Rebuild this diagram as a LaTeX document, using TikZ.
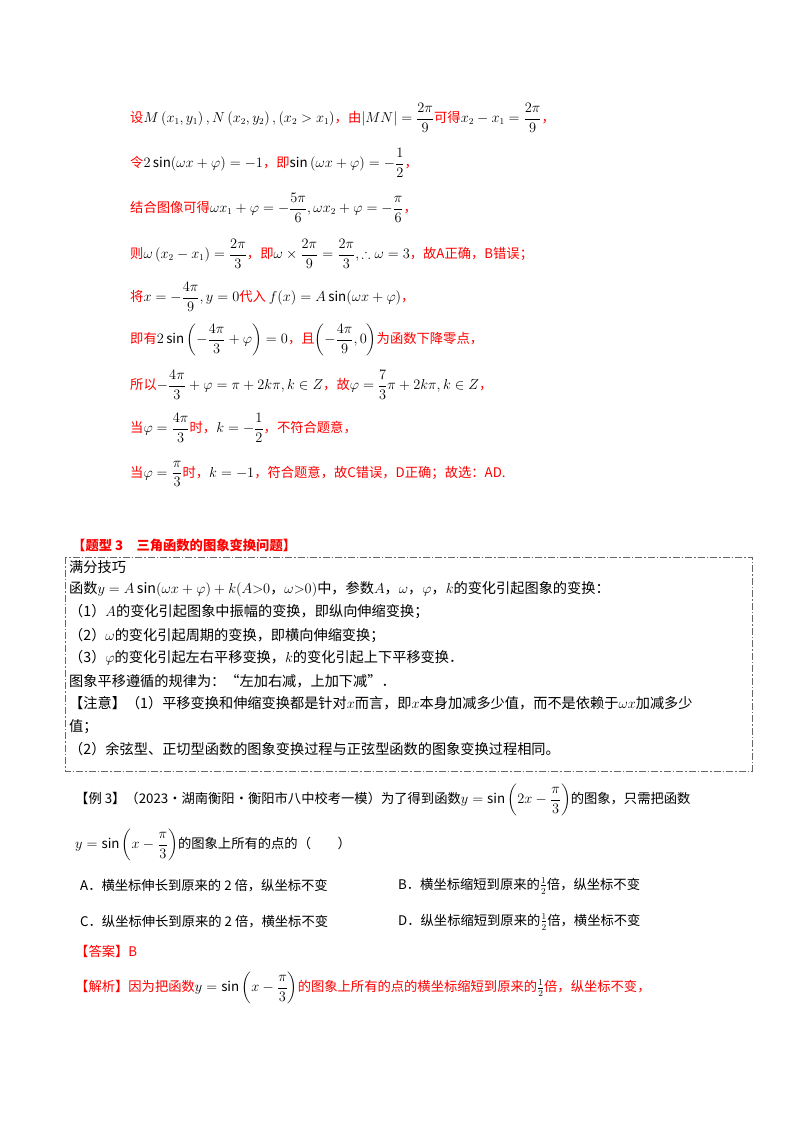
\documentclass[tikz,border=0pt]{standalone}
\usepackage{amsmath,amssymb}
\usepackage{fontspec}
\setmainfont{Noto Sans CJK SC}
\newcommand{\mm}[1]{{\color{black}$\displaystyle #1$}}
\newcommand{\mi}[1]{{\color{black}$#1$}}
\begin{document}
\begin{tikzpicture}[x=1pt,y=-1pt,
  rt/.style={anchor=west,inner sep=0,text=red,font=\fontsize{13.3}{16}\selectfont},
  bt/.style={anchor=west,inner sep=0,text=black,font=\fontsize{13.3}{16}\selectfont},
  kt/.style={anchor=west,inner sep=0,text=black,font=\fontsize{14.2}{16}\selectfont},
  rs/.style={anchor=west,inner sep=0,text=red,font=\fontsize{13.3}{16}\selectfont}]
\useasboundingbox[fill=white] (0,0) rectangle (800,1132);
\node[rt] (l1) at (130,118) {设\mm{M\left(x_1,y_1\right),N\left(x_2,y_2\right),\left(x_2>x_1\right)}，由\mm{\left|MN\right|=\frac{2\pi}{9}}可得\mm{x_2-x_1=\frac{2\pi}{9}}，};
\node[rt] (l2) at (130,163) {令\mm{2\sin(\omega x+\varphi)=-1}，即\mm{\sin\left(\omega x+\varphi\right)=-\frac{1}{2}}，};
\node[rt] (l3) at (130,208) {结合图像可得\mm{\omega x_1+\varphi=-\frac{5\pi}{6},\omega x_2+\varphi=-\frac{\pi}{6}}，};
\node[rt] (l4) at (130,254) {则\mm{\omega\left(x_2-x_1\right)=\frac{2\pi}{3}}，即\mm{\omega\times\frac{2\pi}{9}=\frac{2\pi}{3},\therefore\omega=3}，故A正确，B错误；};
\node[rt] (l5) at (130,297) {将\mm{x=-\frac{4\pi}{9},y=0}代入 \mm{f(x)=A\sin(\omega x+\varphi)}，};
\node[rt] (l6) at (130,340) {即有\mm{2\sin\left(-\frac{4\pi}{3}+\varphi\right)=0}，且\mm{\left(-\frac{4\pi}{9},0\right)}为函数下降零点，};
\node[rt] (l7) at (130,385) {所以\mm{-\frac{4\pi}{3}+\varphi=\pi+2k\pi,k\in Z}，故\mm{\varphi=\frac{7}{3}\pi+2k\pi,k\in Z}，};
\node[rt] (l8) at (130,428) {当\mm{\varphi=\frac{4\pi}{3}}时，\mm{k=-\frac{1}{2}}，不符合题意，};
\node[rt] (l9) at (130,474) {当\mm{\varphi=\frac{\pi}{3}}时，\mm{k=-1}，符合题意，故C错误，D正确；故选：AD.};
\node[rs,font=\fontsize{13.3}{16}\bfseries] (h) at (72,545) {【题型 3\quad 三角函数的图象变换问题】};
\draw[gray!80!black,dash pattern=on 7pt off 2pt on 1.5pt off 2pt,line width=0.8pt] (65,557) rectangle (752,771);
\node[kt] (b1) at (69,567) {满分技巧};
\node[kt] (b2) at (69,589) {函数\mi{y=A\sin(\omega x+\varphi)+k(A{>}0}，\mi{\omega{>}0)}中，参数\mi{A}，\mi{\omega}，\mi{\varphi}，\mi{k}的变化引起图象的变换：};
\node[kt] (b3) at (69,612) {（1）\mi{A}的变化引起图象中振幅的变换，即纵向伸缩变换；};
\node[kt] (b4) at (69,636) {（2）\mi{\omega}的变化引起周期的变换，即横向伸缩变换；};
\node[kt] (b5) at (69,658) {（3）\mi{\varphi}的变化引起左右平移变换，\mi{k}的变化引起上下平移变换．};
\node[kt] (b6) at (69,681) {图象平移遵循的规律为：“左加右减，上加下减”．};
\node[kt] (b7) at (69,703) {【注意】（1）平移变换和伸缩变换都是针对\mi{x}而言，即\mi{x}本身加减多少值，而不是依赖于\mi{\omega x}加减多少};
\node[kt] (b8) at (69,727) {值；};
\node[kt] (b9) at (69,749) {（2）余弦型、正切型函数的图象变换过程与正弦型函数的图象变换过程相同。};
\node[bt] (e1) at (75,800) {【例 3】（2023·湖南衡阳·衡阳市八中校考一模）为了得到函数\mm{y=\sin\left(2x-\frac{\pi}{3}\right)}的图象，只需把函数};
\node[bt] (e2) at (75,845) {\mm{y=\sin\left(x-\frac{\pi}{3}\right)}的图象上所有的点的（\qquad）};
\node[bt] (oA) at (80,886) {A．横坐标伸长到原来的 2 倍，纵坐标不变};
\node[bt] (oB) at (398,886) {B．横坐标缩短到原来的\mi{\tfrac{1}{2}}倍，纵坐标不变};
\node[bt] (oC) at (80,922) {C．纵坐标伸长到原来的 2 倍，横坐标不变};
\node[bt] (oD) at (398,922) {D．纵坐标缩短到原来的\mi{\tfrac{1}{2}}倍，横坐标不变};
\node[rs] (ans) at (75,951) {【答案】B};
\node[rs] (jx) at (75,988) {【解析】因为把函数\mm{y=\sin\left(x-\frac{\pi}{3}\right)}的图象上所有的点的横坐标缩短到原来的\mi{\tfrac{1}{2}}倍，纵坐标不变，};
\end{tikzpicture}
\end{document}
